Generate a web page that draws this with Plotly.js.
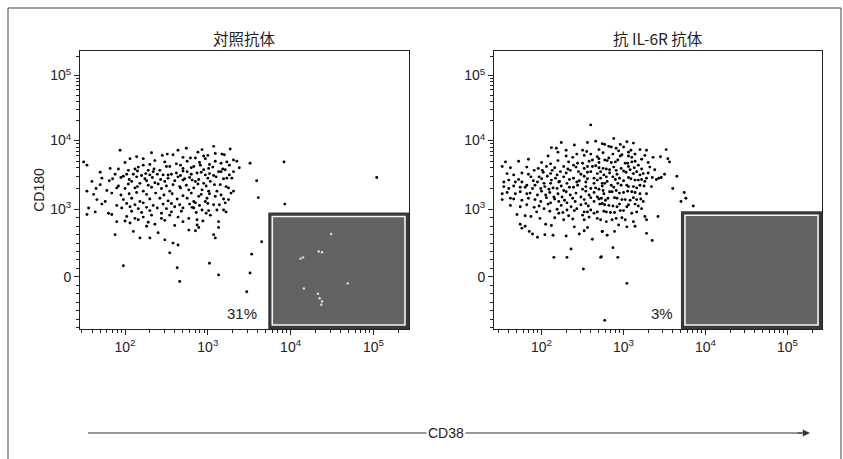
<!DOCTYPE html>
<html>
<head>
<meta charset="utf-8">
<script src="https://cdn.plot.ly/plotly-3.0.1.min.js"></script>
<style>html,body{margin:0;padding:0;background:#fff;}#chart{width:843px;height:459px;}</style>
</head>
<body>
<div id="chart"></div>
<script>
// Panel titles
const panelTitles = ['対照抗体', '抗 IL-6R 抗体'];
const gatePercents = ['31%', '3%'];
// Axis ticks (display scale: x = log10 CD38, y = biexponential CD180 display units)
const xTickVals = [2, 3, 4, 5];
const xTickText = ['10<sup>2</sup>', '10<sup>3</sup>', '10<sup>4</sup>', '10<sup>5</sup>'];
const yTickVals = [1.90, 2.94, 4, 5];
const yTickText = ['0', '10<sup>3</sup>', '10<sup>4</sup>', '10<sup>5</sup>'];

// Control antibody: events (x = CD38 log decades, y = CD180 display units)
const ctrlCD38 = [1.94,1.50,1.54,2.06,2.22,2.36,2.51,2.64,2.74,2.79,1.92,2.04,2.12,2.22,2.28,2.42,2.54,2.67,2.75,1.88,1.98,2.10,2.20,2.30,2.39,2.46,2.56,2.67,2.75,1.72,1.60,1.81,2.08,2.18,2.26,2.36,2.48,2.60,2.70,2.81,1.54,1.65,1.78,1.90,2.00,2.12,2.22,2.32,2.44,2.54,2.67,2.77,1.66,1.76,1.98,2.08,2.18,2.30,2.42,2.52,2.63,2.75,2.83,1.56,1.96,2.06,2.16,2.26,2.39,2.50,2.60,2.70,2.81,1.54,1.84,2.02,2.12,2.22,2.32,2.44,2.54,2.64,2.77,1.90,2.06,2.16,2.26,2.36,2.60,2.77,1.88,2.18,2.30,2.48,2.58,2.64,2.54,1.98,2.63,2.66,
3.07,2.93,3.27,3.09,3.17,2.85,2.97,3.09,3.23,3.31,3.35,3.51,3.92,2.83,2.91,3.01,3.13,3.21,3.31,2.87,2.97,3.07,3.23,3.29,3.59,2.85,2.95,3.03,3.15,2.83,2.93,3.01,3.11,3.25,3.31,3.61,2.89,2.99,3.09,3.19,3.25,2.85,2.97,3.07,3.21,3.93,2.83,2.93,3.01,3.11,3.19,3.03,2.87,2.89,2.87,3.13,3.13,3.07,3.09,3.65,3.53,3.02,3.13,3.51,3.47,5.04];
const ctrlCD180 = [3.85,3.67,3.62,3.72,3.72,3.69,3.79,3.85,3.88,3.73,3.56,3.54,3.56,3.62,3.54,3.54,3.60,3.62,3.68,3.48,3.45,3.48,3.46,3.47,3.48,3.47,3.48,3.46,3.52,3.42,3.37,3.38,3.37,3.34,3.38,3.35,3.37,3.38,3.39,3.39,3.22,3.26,3.23,3.27,3.26,3.27,3.22,3.28,3.26,3.22,3.27,3.24,3.09,3.06,3.09,3.11,3.06,3.10,3.11,3.07,3.10,3.11,3.06,2.96,2.96,2.98,2.95,2.97,2.96,2.95,2.98,2.96,2.97,2.86,2.86,2.83,2.80,2.82,2.85,2.80,2.85,2.82,2.80,2.75,2.73,2.78,2.68,2.71,2.69,2.62,2.55,2.50,2.50,2.47,2.42,2.39,2.27,2.07,2.04,1.83,
3.91,3.86,3.87,3.80,3.79,3.73,3.72,3.68,3.67,3.70,3.68,3.65,3.67,3.60,3.62,3.57,3.52,3.55,3.52,3.50,3.47,3.46,3.42,3.42,3.38,3.37,3.34,3.37,3.32,3.27,3.24,3.22,3.22,3.27,3.22,3.12,3.14,3.11,3.14,3.10,3.09,3.04,3.06,3.01,3.04,3.02,2.96,2.93,2.92,2.93,2.93,2.85,2.78,2.66,2.70,2.75,2.66,2.55,2.50,2.44,2.25,2.11,1.93,1.96,1.67,3.43];
// additional events in the dense core of the control cloud
const ctrlCoreCD38 = [2.32,2.58,2.88,3.00, 2.14,2.45,2.70,2.95,3.20, 2.00,2.30,2.48,2.62,2.90,3.02,3.16,3.26,
1.82,2.16,2.35,2.50,2.70,2.80,2.95,3.06,3.18,3.38, 1.70,2.02,2.15,2.25,2.34,2.52,2.62,2.70,2.80,2.92,3.02,3.16,3.26,
1.85,1.95,2.05,2.14,2.24,2.33,2.43,2.52,2.64,2.72,2.78,2.89,3.00,3.10,3.19, 1.70,1.92,2.04,2.15,2.28,2.40,2.50,2.58,2.66,2.74,2.88,2.98,3.08,3.22,
1.62,1.84,1.95,2.05,2.14,2.26,2.37,2.47,2.57,2.70,2.80,2.92,3.02,3.16,3.28, 1.72,1.90,2.02,2.12,2.22,2.34,2.46,2.56,2.66,2.78,2.90,3.00,3.14,
1.64,1.80,2.08,2.20,2.30,2.44,2.56,2.68,2.86,2.98,3.22, 2.00,2.28,2.48,2.70,2.94, 2.10,2.40,2.85];
const ctrlCoreCD180 = [3.81,3.78,3.82,3.77, 3.75,3.77,3.74,3.76,3.78, 3.66,3.63,3.67,3.64,3.66,3.63,3.65,3.62,
3.57,3.59,3.56,3.60,3.57,3.58,3.55,3.59,3.56,3.58, 3.51,3.48,3.53,3.49,3.52,3.47,3.50,3.53,3.48,3.51,3.49,3.52,3.47,
3.41,3.43,3.40,3.44,3.41,3.43,3.40,3.42,3.44,3.41,3.43,3.40,3.42,3.44,3.41, 3.32,3.30,3.33,3.29,3.31,3.33,3.30,3.32,3.29,3.31,3.33,3.30,3.32,3.29,
3.17,3.19,3.16,3.18,3.20,3.17,3.19,3.16,3.18,3.15,3.19,3.17,3.18,3.16,3.19, 3.02,3.00,3.03,3.01,3.04,3.00,3.02,3.03,3.01,3.02,3.00,3.03,3.01,
2.90,2.88,2.91,2.89,2.92,2.88,2.90,2.91,2.89,2.88,2.90, 2.76,2.74,2.77,2.75,2.76, 2.60,2.58,2.61];
// faint light specks visible inside the control gate
const ctrlGateCD38 = [4.49,4.34,4.38,4.15,4.12,4.69,4.16,4.33,4.35,4.38,4.37];
const ctrlGateCD180 = [2.56,2.29,2.28,2.20,2.18,1.80,1.72,1.64,1.57,1.52,1.47];

// Anti-IL-6R antibody events
const il6rCD38 = [2.60,2.24,2.12,2.18,2.20,2.56,2.66,2.74,2.50,2.30,2.43,2.60,2.62,2.70,1.84,1.56,1.52,2.11,2.27,2.39,2.50,2.56,2.66,1.91,2.01,2.13,2.23,2.35,2.45,2.60,2.72,1.66,1.87,1.97,2.07,2.17,2.27,2.39,2.52,2.64,2.72,1.54,1.68,1.76,1.82,1.95,2.03,2.11,2.21,2.31,2.43,2.54,2.64,2.74,1.60,1.74,1.89,1.99,2.09,2.19,2.27,2.39,2.50,2.60,2.70,1.52,1.68,1.82,1.95,2.05,2.15,2.25,2.35,2.48,2.58,2.68,1.52,1.62,1.76,1.99,2.11,2.21,2.31,2.41,2.54,2.64,2.74,1.74,1.91,2.03,2.19,2.31,2.43,2.52,2.60,2.68,1.70,1.80,1.87,2.21,2.33,2.50,2.27,2.05,2.52,2.56,2.72,1.74,1.76,1.85,1.89,1.95,2.14,2.30,2.52,2.74,2.62,2.36,2.15,2.31,2.72,2.51,
2.88,3.04,3.12,2.77,2.85,2.91,3.00,3.09,3.20,3.52,3.36,3.54,3.56,2.75,2.87,2.98,3.06,3.14,3.22,2.77,2.85,2.93,3.02,3.10,3.18,3.38,2.75,2.83,2.91,3.00,3.08,3.16,3.24,3.28,3.35,3.43,3.46,3.65,2.79,2.87,2.95,3.06,3.14,3.22,3.34,3.60,2.77,2.85,2.93,3.04,3.12,3.20,2.75,2.83,2.91,3.00,3.10,3.20,3.74,3.76,3.70,2.73,2.81,2.89,2.98,3.08,3.16,3.24,2.77,2.87,2.95,3.04,3.14,3.22,3.85,2.79,2.89,3.00,3.10,3.26,3.42,2.79,2.91,3.02,3.12,3.28,3.04,2.74,2.89,3.28,3.35,2.87,2.73,2.93,3.04,2.77];
const il6rCD180 = [4.24,3.97,3.89,3.88,3.82,3.97,3.99,3.95,3.85,3.76,3.79,3.79,3.70,3.72,3.71,3.67,3.60,3.64,3.60,3.62,3.65,3.60,3.61,3.54,3.54,3.54,3.52,3.54,3.52,3.52,3.52,3.47,3.44,3.44,3.45,3.42,3.44,3.42,3.45,3.42,3.42,3.36,3.36,3.36,3.31,3.36,3.34,3.34,3.36,3.34,3.36,3.36,3.34,3.34,3.26,3.28,3.26,3.26,3.25,3.26,3.23,3.28,3.25,3.26,3.25,3.18,3.18,3.18,3.16,3.16,3.13,3.13,3.16,3.13,3.16,3.13,3.09,3.11,3.08,3.06,3.04,3.06,3.04,3.06,3.03,3.06,3.03,2.98,2.97,2.95,2.94,2.93,2.95,2.90,2.93,2.90,2.86,2.84,2.83,2.88,2.84,2.85,2.78,2.71,2.78,2.66,2.78,2.71,2.65,2.60,2.56,2.51,2.54,2.53,2.61,2.60,2.48,2.33,2.20,2.20,2.20,2.02,
4.03,3.98,3.96,3.94,3.90,3.88,3.90,3.85,3.86,3.86,3.74,3.72,3.67,3.81,3.79,3.78,3.76,3.79,3.71,3.70,3.66,3.70,3.65,3.67,3.62,3.55,3.57,3.55,3.54,3.53,3.55,3.52,3.49,3.42,3.43,3.42,3.43,3.45,3.44,3.44,3.42,3.43,3.39,3.40,3.29,3.26,3.34,3.31,3.34,3.31,3.29,3.31,3.23,3.21,3.23,3.20,3.21,3.18,3.20,3.11,3.06,3.11,3.11,3.12,3.09,3.08,3.09,3.06,3.01,2.99,3.02,2.98,3.02,2.95,2.99,2.90,2.89,2.92,2.88,2.83,2.83,2.75,2.80,2.78,2.75,2.78,2.67,2.60,2.60,2.57,2.46,2.35,2.21,2.20,1.80,1.23];
// additional events in the dense core of the anti-IL-6R cloud
const il6rCoreCD38 = [2.40,2.82,2.96, 2.30,2.55,2.70,2.94,3.06,3.28, 2.08,2.38,2.52,2.68,2.82,2.96,3.10,3.26,3.45,
1.72,2.00,2.20,2.33,2.44,2.58,2.70,2.80,2.90,3.05,3.14,3.30,
1.62,1.82,1.96,2.06,2.16,2.32,2.42,2.52,2.62,2.70,2.79,2.88,2.97,3.06,3.13,3.22,3.32,
1.58,1.76,1.84,2.02,2.11,2.19,2.30,2.48,2.56,2.68,2.76,2.83,2.92,3.03,3.12,3.20,3.30,3.50,
1.60,1.72,1.90,2.00,2.12,2.22,2.34,2.46,2.56,2.68,2.80,2.90,3.00,3.09,3.18,3.26,3.40,
1.54,1.66,1.80,1.92,2.04,2.14,2.24,2.34,2.44,2.54,2.66,2.74,2.88,2.97,3.06,3.16,3.25,
1.58,1.74,1.86,2.00,2.10,2.20,2.30,2.42,2.54,2.64,2.76,2.86,2.95,3.05,3.14,3.28,
1.66,1.84,1.92,2.06,2.16,2.28,2.38,2.52,2.60,2.70,2.78,2.92,3.02,3.12,3.21,
1.62,1.82,1.97,2.08,2.24,2.36,2.48,2.57,2.71,2.82,2.92,3.06,3.18,
1.94,2.10,2.26,2.40,2.56,2.64,2.76,2.84,2.96,3.16, 1.98,2.16,2.38,2.58,2.68,2.86,2.98, 1.80,2.12,2.40,2.94,3.14, 2.04,2.46,2.80];
const il6rCoreCD180 = [3.93,3.91,3.94, 3.85,3.83,3.86,3.84,3.82,3.85, 3.76,3.74,3.77,3.75,3.73,3.76,3.74,3.77,3.75,
3.68,3.66,3.69,3.67,3.65,3.68,3.66,3.69,3.67,3.65,3.68,3.66,
3.58,3.59,3.57,3.60,3.58,3.56,3.59,3.57,3.60,3.58,3.56,3.59,3.57,3.60,3.58,3.56,3.59,
3.49,3.50,3.48,3.51,3.49,3.47,3.50,3.48,3.51,3.49,3.47,3.50,3.48,3.51,3.49,3.47,3.50,3.48,
3.39,3.40,3.38,3.41,3.39,3.37,3.40,3.38,3.41,3.39,3.37,3.40,3.38,3.41,3.39,3.37,3.40,
3.29,3.30,3.28,3.31,3.29,3.27,3.30,3.28,3.31,3.29,3.27,3.30,3.28,3.31,3.29,3.27,3.30,
3.20,3.21,3.19,3.22,3.20,3.18,3.21,3.19,3.22,3.20,3.18,3.21,3.19,3.22,3.20,3.18,
3.10,3.11,3.09,3.12,3.10,3.08,3.11,3.09,3.12,3.10,3.08,3.11,3.09,3.12,3.10,
3.00,3.01,2.99,3.02,3.00,2.98,3.01,2.99,3.02,3.00,2.98,3.01,2.99,
2.90,2.91,2.89,2.92,2.90,2.88,2.91,2.89,2.92,2.90, 2.80,2.81,2.79,2.82,2.80,2.78,2.81, 2.68,2.69,2.67,2.70,2.68, 2.55,2.56,2.54];

// Gate bounds (display units)
const gateCD38Low = [3.73, 3.70];
const gateCD180High = [2.89, 2.91];

const xRanges = [[1.456, 5.43], [1.42, 5.42]];
const yRange = [1.097, 5.378];

function minorX() {
  const v = [];
  for (let d = 1; d <= 5; d++) for (let k = 2; k <= 9; k++) v.push(d + Math.log10(k));
  return v;
}
function minorY() {
  const v = [];
  for (let k = 1; k <= 7; k++) v.push(1.90 + k * 0.13);
  for (let k = 1; k <= 6; k++) v.push(1.90 - k * 0.13);
  for (let k = 2; k <= 9; k++) v.push(2.94 + 1.06 * Math.log10(k));
  for (let k = 2; k <= 9; k++) v.push(4 + Math.log10(k));
  v.push(5 + Math.log10(2));
  return v;
}

const fam = 'Liberation Sans, Arial, sans-serif';
const font = {family: fam, size: 14, color: '#222'};
const cjk = {family: 'Noto Sans CJK JP, Noto Sans CJK SC, sans-serif', size: 15.5, color: '#222'};

function xAxis(i, dom) {
  return {
    domain: dom, range: xRanges[i], anchor: i === 0 ? 'y' : 'y2',
    tickmode: 'array', tickvals: xTickVals, ticktext: xTickText,
    ticks: 'outside', ticklen: 5, tickwidth: 1, tickcolor: '#222',
    minor: {tickmode: 'array', tickvals: minorX(), ticks: 'outside', ticklen: 3, tickcolor: '#222', tickwidth: 1},
    showline: true, linecolor: '#222', linewidth: 1, mirror: true,
    showgrid: false, zeroline: false, tickfont: font, fixedrange: true
  };
}
function yAxis(i, dom) {
  return {
    domain: dom, range: yRange, anchor: i === 0 ? 'x' : 'x2',
    tickmode: 'array', tickvals: yTickVals, ticktext: yTickText,
    ticks: 'outside', ticklen: 5, tickwidth: 1, tickcolor: '#222',
    minor: {tickmode: 'array', tickvals: minorY(), ticks: 'outside', ticklen: 3, tickcolor: '#222', tickwidth: 1},
    showline: true, linecolor: '#222', linewidth: 1, mirror: true,
    showgrid: false, zeroline: false, tickfont: font, fixedrange: true
  };
}

const W = 843, H = 459;
const xDom = [[80 / W, 409 / W], [494 / W, 822 / W]];
const yDom = [1 - 329 / H, 1 - 51 / H];

const dot = {size: 2.9, color: '#000'};
const traces = [
  {type: 'scatter', mode: 'markers', x: ctrlCD38.concat(ctrlCoreCD38), y: ctrlCD180.concat(ctrlCoreCD180), xaxis: 'x', yaxis: 'y', marker: dot, hoverinfo: 'skip'},
  {type: 'scatter', mode: 'markers', x: ctrlGateCD38, y: ctrlGateCD180, xaxis: 'x', yaxis: 'y', marker: {size: 2.4, color: '#e0e0e0'}, hoverinfo: 'skip'},
  {type: 'scatter', mode: 'markers', x: il6rCD38.concat(il6rCoreCD38), y: il6rCD180.concat(il6rCoreCD180), xaxis: 'x2', yaxis: 'y2', marker: dot, hoverinfo: 'skip'}
];

const shapes = [];
const insetX = 4 / 82.5, insetY = 4 / 65;
[0, 1].forEach(i => {
  const xr = i === 0 ? 'x' : 'x2', yr = i === 0 ? 'y' : 'y2';
  shapes.push({type: 'rect', xref: xr, yref: yr, layer: 'below',
    x0: gateCD38Low[i], x1: xRanges[i][1], y0: yRange[0], y1: gateCD180High[i],
    fillcolor: '#383838', line: {width: 0}});
  shapes.push({type: 'rect', xref: xr, yref: yr, layer: 'below',
    x0: gateCD38Low[i] + insetX, x1: xRanges[i][1] - insetX, y0: yRange[0] + insetY, y1: gateCD180High[i] - insetY,
    fillcolor: '#626262', line: {width: 1.6, color: '#f4f4f4'}});
});
// outer frame
shapes.push({type: 'rect', xref: 'paper', yref: 'paper', x0: 8 / W, x1: 841 / W, y0: -0.02, y1: 1 - 8 / H,
  line: {width: 1, color: '#444'}, fillcolor: 'rgba(0,0,0,0)'});
// CD38 arrow line
shapes.push({type: 'line', xref: 'paper', yref: 'paper', x0: 88 / W, x1: 802 / W, y0: 1 - 433 / H, y1: 1 - 433 / H,
  line: {width: 1.2, color: '#333'}});

const ann = (x, y, text, f, extra) => Object.assign({xref: 'paper', yref: 'paper', x: x / W, y: 1 - y / H, text: text,
  showarrow: false, xanchor: 'center', yanchor: 'middle', font: f}, extra || {});
const annotations = [
  ann(244.5, 38, panelTitles[0], cjk),
  ann(658, 38, panelTitles[1], cjk),
  ann(242, 313, gatePercents[0], {family: fam, size: 15, color: '#222'}),
  ann(662, 313, gatePercents[1], {family: fam, size: 15, color: '#222'}),
  ann(446, 433, 'CD38', font, {bgcolor: '#fff', borderpad: 1}),
  {xref: 'paper', yref: 'paper', x: 810 / W, y: 1 - 433 / H, ax: -14, ay: 0, text: '', showarrow: true,
    arrowhead: 2, arrowsize: 1.2, arrowwidth: 1.2, arrowcolor: '#333'}
];

const layout = {
  width: W, height: H, margin: {l: 0, r: 0, t: 0, b: 0},
  paper_bgcolor: '#fff', plot_bgcolor: '#fff', showlegend: false,
  xaxis: xAxis(0, xDom[0]), yaxis: Object.assign(yAxis(0, yDom), {title: {text: 'CD180', font: font, standoff: 2}}),
  xaxis2: xAxis(1, xDom[1]), yaxis2: yAxis(1, yDom),
  shapes: shapes, annotations: annotations
};

Plotly.newPlot('chart', traces, layout, {staticPlot: true, displayModeBar: false});
</script>
</body>
</html>
